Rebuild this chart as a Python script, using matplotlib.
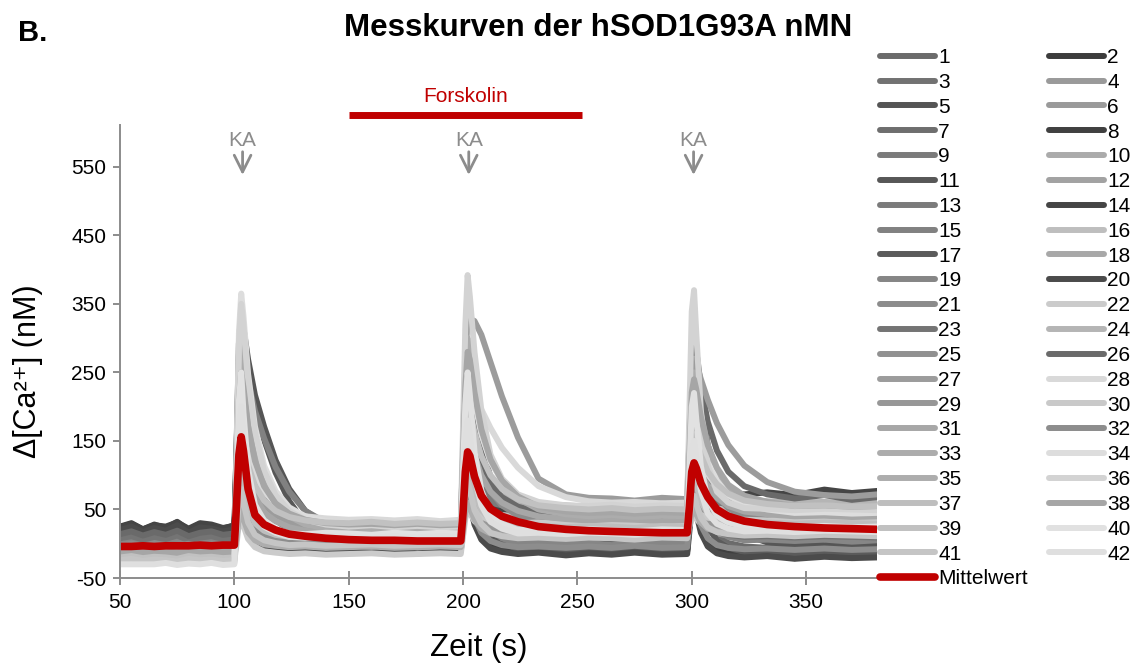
import matplotlib
matplotlib.use("Agg")
import matplotlib.pyplot as plt
import numpy as np

plt.rcParams["font.family"] = ["Liberation Sans", "DejaVu Sans"]
plt.rcParams["axes.unicode_minus"] = False

# Zeitachse (s)
zeit = [50, 55, 60, 65, 70, 75, 80, 85, 90, 95, 100,
        101, 102, 103, 104, 106, 109, 113, 118, 124, 131, 140, 150, 160, 170, 180, 190, 199,
        200, 201, 202, 203, 205, 208, 212, 217, 224, 233, 245, 255, 265, 275, 287, 298,
        299, 300, 301, 302, 304, 307, 311, 316, 323, 333, 345, 358, 370, 381]

# Messkurven (delta Ca2+ in nM), eine Liste pro Zelle
k01 = [12,15,10,16,11,14,9,17,13,10,12, 127,257,300,271,198,132,82,51,30,19,13,9,11,8,12,9,10, 106,202,250,213,125,63,25,10,2,-2,1,-1,2,0,-2,1, 91,180,200,159,87,36,11,1,-4,-6,-3,-7,-4,-6]
k02 = [22,27,18,25,20,28,17,26,24,19,23, 85,156,180,137,77,39,22,13,10,6,11,5,12,6,10,4,9, 53,98,120,101,55,22,3,-5,-10,-8,-13,-9,-12,-7,-11,-9, 36,80,90,69,32,6,-7,-12,-16,-13,-18,-12,-17,-14]
k03 = [8,10,7,11,6,9,10,7,8,11,8, 109,222,260,235,173,116,74,47,29,19,14,11,13,12,10,13,12, 91,170,210,200,163,119,83,58,39,28,22,19,21,20,18,21, 88,155,170,158,127,95,69,50,37,29,26,24,27,25]
k04 = [-8,-6,-9,-7,-10,-8,-6,-9,-7,-8,-8, 43,101,120,90,48,22,10,4,0,-1,1,0,-2,1,0,2,0, 40,80,100,87,55,32,19,14,10,11,9,12,10,8,11,10, 42,73,80,67,44,28,20,17,15,14,16,13,15,16]
k05 = [18,22,15,24,17,20,14,25,19,16,18, 147,292,340,314,269,217,171,122,80,48,28,16,19,13,17,14,15, 121,227,280,266,211,148,96,60,33,16,8,4,7,3,6,4, 137,270,300,276,210,144,90,51,24,9,2,-2,1,-1]
k06 = [-12,-10,-13,-11,-14,-12,-10,-13,-11,-12,-12, 29,75,90,66,33,12,3,-2,-5,-6,-4,-5,-7,-4,-6,-3,-5, 29,63,80,69,43,24,13,8,5,6,4,7,5,3,6,5, 34,64,70,58,37,22,15,12,10,9,11,8,10,11]
k07 = [10,13,8,12,9,14,7,11,13,8,10, 94,189,220,199,145,95,59,35,20,11,7,4,6,3,7,4,5, 75,145,180,171,134,91,56,32,14,2,-3,-6,-4,-7,-5,-4, 65,135,150,118,63,24,5,-3,-8,-10,-7,-9,-6,-8]
k08 = [25,30,21,28,23,32,20,29,26,22,27, 75,131,150,111,55,20,5,-3,-10,-6,-9,-5,-10,-7,-11,-6,-8, 35,78,100,83,44,16,-1,-8,-13,-10,-15,-11,-14,-10,-13,-11, 30,71,80,60,26,2,-10,-15,-19,-16,-21,-17,-20,-18]
k09 = [5,8,4,7,3,6,9,5,7,4,6, 84,171,200,152,85,43,23,14,9,7,9,8,6,9,7,10,8, 69,130,160,138,88,51,30,21,15,14,16,13,15,17,14,15, 71,128,140,116,74,44,30,24,20,21,19,22,20,21]
k10 = [-15,-14,-16,-13,-15,-17,-14,-15,-13,-16,-15, 31,83,100,75,40,18,8,3,0,2,-1,1,0,2,-1,1,0, 48,96,120,107,75,53,39,34,30,32,29,31,33,30,32,31, 58,84,90,80,63,50,44,42,40,41,39,42,40,41]
k11 = [20,24,17,23,19,26,16,22,25,18,21, 141,275,320,294,249,197,152,104,62,29,10,-2,1,-4,-1,-5,-3, 102,207,260,247,195,135,86,52,26,10,3,-1,2,-2,1,0, 99,198,220,202,153,103,63,33,13,2,-4,-7,-3,-6]
k12 = [-10,-8,-11,-9,-12,-10,-8,-11,-9,-10,-10, 26,67,80,58,27,8,-1,-5,-8,-7,-9,-7,-8,-10,-7,-9,-8, 31,70,90,80,55,38,27,23,20,21,19,22,20,18,21,20, 43,65,70,62,48,38,33,31,30,29,31,30,28,31]
k13 = [6,9,5,8,7,10,4,8,6,9,7, 76,154,180,163,121,81,53,34,22,15,12,9,11,10,8,11,10, 66,122,150,144,119,90,66,50,38,30,26,24,26,25,23,25, 72,120,130,122,100,78,60,47,38,33,30,29,31,30]
k14 = [24,29,21,27,25,31,22,30,28,23,26, 64,106,120,94,57,34,23,18,15,17,14,18,13,16,19,14,15, 49,83,100,92,72,59,51,47,45,48,44,49,46,50,47,48, 67,86,90,88,84,80,77,74,72,75,71,79,74,77]
k15 = [0,3,-2,2,-1,4,1,-2,3,0,1, 121,255,300,278,238,194,154,112,76,48,31,21,19,22,20,18,21, 93,164,200,192,158,118,86,64,47,37,32,30,31,29,32,30, 98,165,180,168,137,105,79,60,47,39,35,36,34,35]
k16 = [-20,-18,-21,-19,-22,-20,-18,-21,-19,-20,-20, 12,48,60,43,18,3,-4,-8,-10,-9,-11,-10,-8,-11,-9,-10,-10, 26,62,80,74,60,50,44,42,40,41,39,42,40,38,41,40, 49,58,60,58,55,52,51,50,49,51,50,48,51,50]
k17 = [15,19,13,18,14,21,12,17,20,14,16, 122,240,280,253,184,121,74,44,24,13,8,4,7,3,6,4,5, 91,177,220,186,106,49,15,1,-8,-6,-10,-7,-9,-6,-10,-8, 81,170,190,150,79,28,4,-6,-12,-10,-14,-11,-13,-12]
k18 = [-12,-10,-13,-11,-12,-14,-10,-12,-11,-13,-12, 53,126,150,138,106,78,56,43,34,29,26,25,27,24,26,23,25, 79,133,160,154,131,105,83,68,57,50,46,44,46,45,43,45, 79,113,120,114,99,84,71,62,56,52,50,51,49,50]
k19 = [2,5,0,4,1,6,-1,3,5,1,2, 97,204,240,183,102,51,28,17,10,9,11,10,8,11,9,12,10, 86,162,200,170,100,50,20,8,0,2,-1,1,-2,0,2,0, 81,162,180,145,84,40,19,10,5,6,4,6,3,5]
k20 = [20,25,17,23,19,27,16,24,22,18,21, 53,88,100,72,33,8,-3,-9,-12,-10,-14,-11,-13,-10,-14,-12,-11, 21,54,70,57,28,6,-7,-12,-15,-13,-17,-14,-16,-13,-16,-15, 19,53,60,44,16,-4,-14,-18,-20,-18,-22,-19,-21,-20]
k21 = [-2,0,-4,1,-3,-1,2,-2,0,-3,-1, 79,170,200,182,135,93,61,41,28,21,17,15,14,16,15,13,15, 81,147,180,172,141,106,76,56,41,31,27,25,26,24,26,25, 86,147,160,150,121,92,69,52,40,34,30,31,29,30]
k22 = [-25,-25,-25,-25,-23,-26,-24,-25,-23,-26,-25, 1,30,40,26,7,-5,-11,-13,-15,-14,-16,-15,-14,-16,-15,-14,-15, 11,37,50,45,33,24,19,16,15,16,14,15,17,14,16,15, 26,38,40,36,29,24,22,21,20,19,21,20,19,21]
k23 = [8,11,6,10,7,12,5,9,11,7,8, 69,137,160,121,67,33,17,10,5,4,6,5,3,6,4,7,5, 59,113,140,121,75,43,23,15,10,11,9,12,10,8,11,10, 55,100,110,90,55,30,18,13,10,11,9,11,10,9]
k24 = [-18,-16,-19,-17,-18,-20,-16,-18,-17,-19,-18, 33,91,110,101,79,58,43,33,26,23,21,20,22,19,21,20,20, 64,108,130,126,111,94,80,70,63,58,56,54,57,55,53,56, 80,105,110,106,95,84,75,69,64,62,60,61,59,60]
k25 = [-5,-3,-6,-4,-7,-5,-2,-6,-4,-5,-5, 97,212,250,190,105,52,27,15,8,7,9,8,6,9,7,9,8, 97,186,230,199,125,73,41,28,20,21,19,22,20,18,21,20, 101,182,200,165,104,60,39,30,25,26,24,26,24,25]
k26 = [14,18,12,17,13,19,11,16,18,13,15, 69,130,150,114,63,31,17,9,5,7,4,6,3,7,5,4,5, 75,145,180,173,145,113,86,68,54,46,41,39,42,40,38,41, 158,274,300,281,230,178,136,105,84,72,66,71,64,68]
k27 = [-8,-6,-9,-7,-10,-8,-5,-9,-7,-8,-8, 63,143,170,155,118,84,59,43,32,26,23,22,24,21,23,20,22, 145,268,330,328,325,305,265,215,155,95,72,67,66,63,67,65, 157,250,270,262,240,210,176,144,114,90,76,71,69,72]
k28 = [-20,-20,-20,-20,-18,-21,-19,-20,-18,-21,-20, 68,167,200,184,142,104,76,58,47,40,37,35,36,34,36,33,35, 109,183,220,217,209,196,169,140,111,84,68,62,60,61,59,60, 101,141,150,142,122,101,84,71,63,58,55,56,54,55]
k29 = [-6,-4,-7,-5,-8,-6,-3,-7,-5,-6,-6, 48,110,130,99,55,28,15,9,5,4,6,5,3,6,4,6,5, 47,89,110,95,61,37,22,16,12,13,11,13,12,10,13,12, 47,82,90,75,49,30,21,17,15,16,14,16,15,14]
k30 = [-22,-21,-23,-22,-24,-22,-20,-23,-21,-22,-22, 15,56,70,53,28,13,6,2,0,-1,1,0,-2,1,0,-1,0, 28,56,70,64,50,40,34,32,30,31,29,31,30,28,31,30, 39,48,50,47,42,38,36,35,35,34,36,35,34,35]
k31 = [-10,-8,-11,-9,-10,-12,-8,-10,-9,-11,-10, 50,118,140,128,96,68,46,33,24,19,16,15,16,14,16,14,15, 73,131,160,154,129,100,76,60,48,40,36,34,36,35,33,35, 78,121,130,123,103,83,67,55,47,43,40,41,39,40]
k32 = [-3,-1,-4,-2,-5,-3,0,-4,-2,-3,-3, 34,76,90,68,37,18,9,5,2,1,3,2,0,3,1,3,2, 33,64,80,67,38,16,4,-2,-5,-4,-6,-4,-6,-3,-6,-5, 29,63,70,54,27,8,-2,-6,-8,-7,-9,-7,-9,-8]
k33 = [-14,-12,-15,-13,-14,-16,-12,-14,-13,-15,-14, 112,253,300,272,202,138,90,59,40,28,23,20,21,19,21,19,20, 132,244,300,287,235,175,126,92,66,50,43,40,42,39,41,40, 135,229,250,234,189,143,107,80,61,51,45,46,44,45]
k34 = [-25,-25,-25,-25,-24,-26,-23,-25,-24,-26,-25, 131,307,365,332,248,171,114,77,53,40,33,30,32,29,31,28,30, 122,214,260,250,208,159,119,92,71,58,52,50,51,49,51,50, 118,185,200,188,154,119,92,71,57,50,45,46,44,45]
k35 = [-16,-14,-17,-15,-18,-16,-13,-17,-15,-16,-16, 10,40,50,36,17,5,-1,-3,-5,-4,-6,-5,-4,-6,-5,-4,-5, 21,47,60,53,35,22,15,12,10,11,9,11,10,9,11,10, 28,46,50,43,31,22,18,16,15,14,16,15,14,16]
k36 = [-28,-28,-28,-28,-27,-29,-26,-28,-27,-29,-28, 123,293,350,318,236,162,106,71,48,35,28,25,27,24,26,24,25, 172,319,392,360,280,195,130,95,72,61,56,55,57,54,56,55, 197,339,370,306,194,114,76,60,52,51,49,51,50,49]
k37 = [-22,-20,-23,-21,-22,-24,-20,-22,-21,-23,-22, 35,99,120,93,54,30,19,13,10,9,11,10,8,11,9,11,10, 54,98,120,106,73,49,35,29,25,26,24,26,25,23,26,25, 59,93,100,86,62,44,36,32,30,31,29,31,30,29]
k38 = [-12,-10,-13,-11,-12,-14,-10,-12,-11,-13,-12, 93,211,250,228,172,121,84,59,44,35,30,28,29,27,29,27,28, 129,230,280,268,221,167,123,92,69,54,47,45,46,44,46,45, 133,221,240,225,185,144,111,86,70,61,55,56,54,55]
k39 = [-20,-18,-21,-19,-20,-22,-18,-20,-19,-21,-20, 52,133,160,147,115,85,63,48,39,34,31,30,32,29,31,29,30, 98,166,200,193,163,128,100,80,65,56,52,50,52,49,51,50, 100,149,160,152,129,105,87,73,63,58,55,56,54,55]
k40 = [-26,-26,-26,-26,-25,-27,-24,-26,-25,-27,-26, 84,209,250,191,109,57,34,22,15,14,16,15,13,16,14,16,15, 109,203,250,216,135,78,43,29,20,21,19,21,20,18,21,20, 110,200,220,181,113,64,41,31,25,26,24,26,24,25]
k41 = [-24,-22,-25,-23,-24,-26,-22,-24,-23,-25,-24, 18,64,80,60,31,13,5,1,-2,-1,-3,-2,-1,-3,-2,-1,-2, 35,72,90,78,49,29,16,11,8,9,7,9,8,6,9,8, 36,64,70,58,38,24,17,14,12,13,11,13,12,11]
k42 = [-30,-30,-30,-30,-28,-31,-29,-30,-28,-31,-30, 62,166,200,153,86,44,25,16,10,9,11,10,8,11,9,11,10, 78,146,180,155,98,56,32,22,15,16,14,16,15,13,16,15, 76,137,150,124,77,44,29,22,18,19,17,19,18,17]

mittelwert = [-4,-4,-3,-4,-3,-3,-3,-2,-3,-2,-2, 60,130,156,135,80,42,28,20,14,11,8,6,5,5,4,4,4, 45,105,134,128,98,70,51,40,32,25,21,19,18,17,16,16, 55,105,118,110,88,68,50,40,33,28,25,23,22,21]

grautoene = ["#6b6b6b", "#3c3c3c", "#727272", "#9a9a9a", "#555555", "#9a9a9a", "#6e6e6e", "#404040",
             "#7b7b7b", "#ababab", "#575757", "#a2a2a2", "#7b7b7b", "#454545", "#818181", "#bebebe",
             "#5b5b5b", "#a8a8a8", "#868686", "#4b4b4b", "#8c8c8c", "#cbcbcb", "#747474", "#b5b5b5",
             "#919191", "#6a6a6a", "#9c9c9c", "#d9d9d9", "#979797", "#c9c9c9", "#a7a7a7", "#8d8d8d",
             "#acacac", "#dddddd", "#adadad", "#d3d3d3", "#bebebe", "#a6a6a6", "#c1c1c1", "#e1e1e1",
             "#c5c5c5", "#dfdfdf"]

ka_zeiten = [103.6, 202.5, 300.8]
forskolin = (150.2, 252.1)

y_ticks = [-50, 50, 150, 250, 350, 450, 550]
x_ticks = [50, 100, 150, 200, 250, 300, 350]

kurven = [k01, k02, k03, k04, k05, k06, k07, k08, k09, k10, k11, k12, k13, k14,
          k15, k16, k17, k18, k19, k20, k21, k22, k23, k24, k25, k26, k27, k28,
          k29, k30, k31, k32, k33, k34, k35, k36, k37, k38, k39, k40, k41, k42]

W, H = 1134, 666
fig = plt.figure(figsize=(W / 100, H / 100), dpi=100)
ax = fig.add_axes([120 / W, 88 / H, 757 / W, 453 / H])

linien = []
for i, (werte, farbe) in enumerate(zip(kurven, grautoene)):
    h, = ax.plot(zeit, werte, color=farbe, lw=4.3, solid_joinstyle="round",
                 solid_capstyle="round", label=str(i + 1))
    linien.append(h)
mw, = ax.plot(zeit, mittelwert, color="#c00000", lw=5.5, solid_joinstyle="round",
              solid_capstyle="round", label="Mittelwert")

ax.set_xlim(50, 381)
ax.set_ylim(-50, 611)
ax.set_xticks(x_ticks)
ax.set_yticks(y_ticks)
for s in ["top", "right"]:
    ax.spines[s].set_visible(False)
for s in ["left", "bottom"]:
    ax.spines[s].set_color("#8c8c8c")
    ax.spines[s].set_linewidth(1.4)
ax.tick_params(axis="y", direction="out", length=5, width=1.4, color="#8c8c8c",
               labelsize=15, pad=5)
ax.tick_params(axis="x", direction="inout", length=10, width=1.4, color="#8c8c8c",
               labelsize=15, pad=6)

# KA-Pfeile und Forskolin-Balken
grau = "#8c8c8c"
for t in ka_zeiten:
    ax.annotate("", xy=(t, 534), xytext=(t, 576), annotation_clip=False,
                arrowprops=dict(arrowstyle="->", color=grau, lw=2, mutation_scale=30))
    ax.text(t, 589, "KA", color=grau, fontsize=15, ha="center", va="center", clip_on=False)
ax.plot(forskolin, [626, 626], color="#c00000", lw=5, solid_capstyle="butt", clip_on=False)
ax.text(sum(forskolin) / 2, 652, "Forskolin", color="#c00000", fontsize=15,
        ha="center", va="center", clip_on=False)

reihenfolge = linien[0::2] + [mw] + linien[1::2]
fig.legend(reihenfolge, [h.get_label() for h in reihenfolge], ncol=2, loc="upper left",
           bbox_to_anchor=(880 / W, 1 - 48 / H), frameon=False, fontsize=15,
           handlelength=2.65, handletextpad=0.15, labelspacing=0.28, columnspacing=1.0,
           borderpad=0, borderaxespad=0)

fig.text(18 / W, 1 - 33 / H, "B.", fontsize=21, fontweight="bold", va="center")
fig.text(598 / W, 1 - 28 / H, "Messkurven der hSOD1G93A nMN", fontsize=22.5,
         fontweight="bold", ha="center", va="center")
fig.text(479 / W, 1 - 648 / H, "Zeit (s)", fontsize=22.5, ha="center", va="center")
fig.text(28 / W, 1 - 371 / H, "Δ[Ca²⁺] (nM)", fontsize=22, rotation=90,
         ha="center", va="center")

fig.savefig("out.png", dpi=100)
